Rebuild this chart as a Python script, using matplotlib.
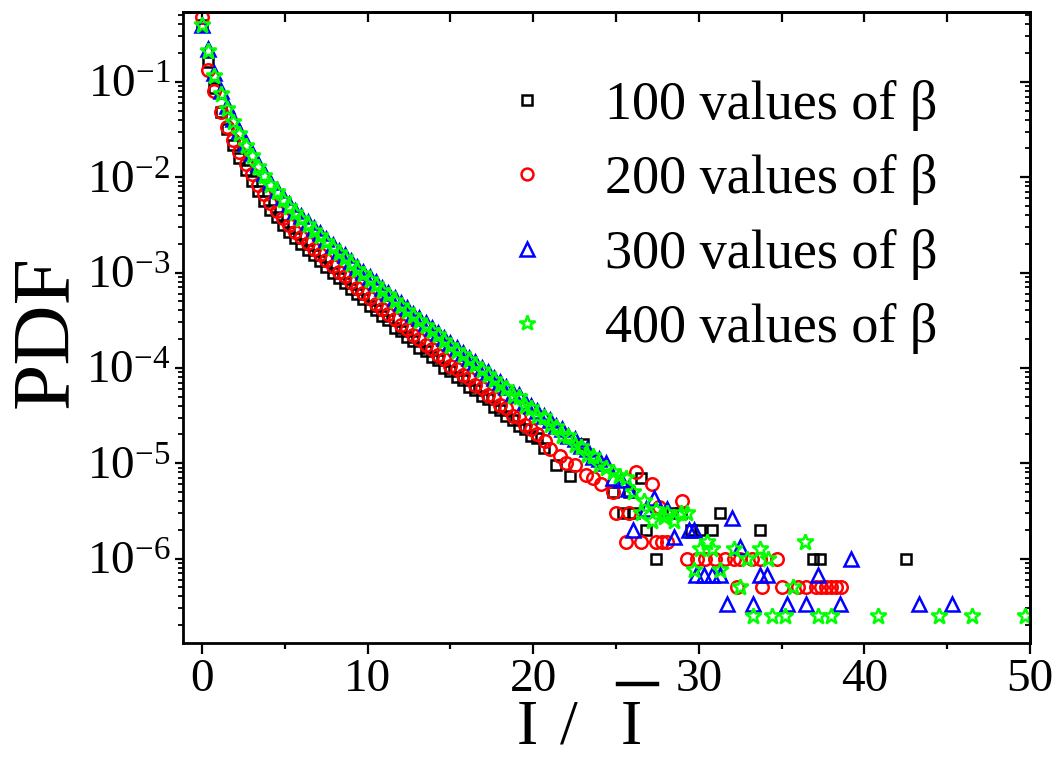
import numpy as np
import matplotlib
matplotlib.use('Agg')
import matplotlib.pyplot as plt
from matplotlib.ticker import FixedLocator, NullFormatter, FuncFormatter, NullLocator
from matplotlib.lines import Line2D

plt.rcParams['font.family'] = ['Liberation Serif', 'DejaVu Serif']
plt.rcParams['mathtext.fontset'] = 'custom'
plt.rcParams['mathtext.rm'] = 'Liberation Serif'
plt.rcParams['mathtext.it'] = 'Liberation Serif:italic'

# ---------------- data ----------------
x_dense = [0.00, 0.38, 0.75, 1.13, 1.50, 1.88, 2.25, 2.63, 3.00, 3.38, 3.75, 4.13, 4.50, 4.88,
           5.25, 5.63, 6.00, 6.38, 6.75, 7.13, 7.50, 7.88, 8.25, 8.63, 9.00, 9.38, 9.75, 10.13,
           10.50, 10.88, 11.25, 11.63, 12.00, 12.38, 12.75, 13.13, 13.50, 13.88, 14.25, 14.63,
           15.00, 15.38, 15.75, 16.13, 16.50, 16.88, 17.25, 17.63, 18.00, 18.38, 18.75, 19.13,
           19.50, 19.88, 20.25, 20.63, 21.00, 21.38, 21.75, 22.13, 22.50, 22.88, 23.25, 23.63, 24.00]

# log10(PDF) of the densely populated bins
log_black = [-0.40, -0.79, -1.07, -1.32, -1.50, -1.66, -1.80, -1.93, -2.04, -2.15, -2.25, -2.34,
             -2.42, -2.50, -2.57, -2.64, -2.70, -2.76, -2.82, -2.88, -2.94, -3.00, -3.06, -3.11,
             -3.17, -3.23, -3.28, -3.35, -3.39, -3.46, -3.50, -3.58, -3.61, -3.68, -3.72, -3.79,
             -3.82, -3.89, -3.92, -4.00, -4.03, -4.10, -4.13, -4.20, -4.23, -4.30, -4.33, -4.41,
             -4.44, -4.51, -4.55, -4.61, -4.64, -4.72, -4.74, -4.84]
log_red = [-0.32, -0.88, -1.10, -1.32, -1.47, -1.61, -1.74, -1.86, -1.97, -2.08, -2.18, -2.27,
           -2.35, -2.43, -2.50, -2.57, -2.63, -2.69, -2.75, -2.81, -2.87, -2.93, -2.99, -3.04,
           -3.10, -3.16, -3.21, -3.27, -3.33, -3.38, -3.44, -3.49, -3.55, -3.59, -3.66, -3.70,
           -3.76, -3.80, -3.87, -3.91, -3.98, -4.01, -4.08, -4.11, -4.18, -4.21, -4.29, -4.32,
           -4.39, -4.42, -4.50, -4.52, -4.60, -4.64, -4.69]
log_blue = [-0.40, -0.66, -0.91, -1.10, -1.25, -1.39, -1.52, -1.64, -1.75, -1.86, -1.96, -2.05,
            -2.13, -2.21, -2.28, -2.35, -2.41, -2.47, -2.53, -2.59, -2.65, -2.71, -2.77, -2.82,
            -2.88, -2.94, -2.99, -3.05, -3.10, -3.16, -3.21, -3.27, -3.32, -3.37, -3.43, -3.48,
            -3.53, -3.58, -3.63, -3.69, -3.74, -3.79, -3.84, -3.90, -3.94, -4.00, -4.04, -4.11,
            -4.15, -4.20, -4.26, -4.29, -4.36, -4.40, -4.45, -4.50, -4.55, -4.61, -4.64, -4.72,
            -4.75, -4.82, -4.85, -4.93, -4.96]
log_green = [-0.40, -0.68, -0.94, -1.13, -1.28, -1.42, -1.55, -1.67, -1.78, -1.89, -1.99, -2.08,
             -2.16, -2.24, -2.31, -2.38, -2.44, -2.50, -2.56, -2.62, -2.68, -2.74, -2.80, -2.85,
             -2.91, -2.97, -3.02, -3.08, -3.13, -3.19, -3.24, -3.30, -3.35, -3.40, -3.46, -3.51,
             -3.56, -3.61, -3.66, -3.72, -3.77, -3.82, -3.87, -3.92, -3.97, -4.02, -4.08, -4.13,
             -4.18, -4.21, -4.30, -4.31, -4.40, -4.42, -4.50, -4.52, -4.60, -4.62, -4.71, -4.72,
             -4.81, -4.83, -4.91, -4.92, -5.02]

# sparse tail bins (x, PDF)
black_tail_x = [21.4, 22.2, 23.0, 24.8, 25.4, 25.8, 26.1, 26.5, 26.8, 27.4, 28.4, 28.9, 29.5,
                30.1, 30.8, 31.3, 33.7, 36.9, 37.3, 42.5]
black_tail_y = [9.5e-6, 7.4e-6, 1.6e-5, 5e-6, 3e-6, 5e-6, 3e-6, 7e-6, 2e-6, 1e-6, 3e-6, 3e-6,
                2e-6, 2e-6, 2e-6, 3e-6, 2e-6, 1e-6, 1e-6, 1e-6]

red_tail_x = [20.7, 21.0, 21.6, 22.0, 22.5, 23.2, 23.6, 24.1, 24.8, 25.0, 25.6, 25.8, 26.2, 26.5,
              27.2, 27.4, 27.6, 27.8, 28.1, 29.0, 29.3, 29.9, 30.4, 31.0, 31.6, 32.1, 32.3, 32.5,
              33.2, 33.7, 33.8, 34.7, 35.0, 36.0, 36.5, 37.1, 37.4, 37.7, 38.0, 38.3, 38.6]
red_tail_y = [1.7e-5, 1.4e-5, 1.2e-5, 1.0e-5, 9.5e-6, 7.5e-6, 7.0e-6, 6.0e-6, 5.0e-6, 3.0e-6,
              1.5e-6, 3.0e-6, 8.0e-6, 1.5e-6, 6.0e-6, 1.5e-6, 3.5e-6, 1.5e-6, 1.5e-6, 4.0e-6,
              1e-6, 1e-6, 1e-6, 1e-6, 1e-6, 1e-6, 5e-7, 1e-6, 1e-6, 1e-6, 5e-7, 1e-6, 5e-7,
              5e-7, 5e-7, 5e-7, 5e-7, 5e-7, 5e-7, 5e-7, 5e-7]

blue_tail_x = [24.4, 24.8, 25.3, 25.7, 26.0, 26.8, 27.3, 28.1, 28.5, 29.4, 29.7, 29.8, 30.3,
               30.8, 31.3, 31.7, 32.0, 32.5, 33.3, 33.7, 34.1, 35.3, 36.5, 37.2, 38.5, 39.2,
               43.3, 45.3]
blue_tail_y = [1.0e-5, 7e-6, 6.67e-6, 5.33e-6, 2e-6, 3.33e-6, 4.33e-6, 3.33e-6, 1.67e-6, 2e-6,
               2e-6, 6.67e-7, 6.67e-7, 6.67e-7, 6.67e-7, 3.33e-7, 2.67e-6, 1.33e-6, 3.33e-7,
               6.67e-7, 6.67e-7, 3.33e-7, 3.33e-7, 6.67e-7, 3.33e-7, 1e-6, 3.33e-7, 3.33e-7]

green_tail_x = [24.4, 24.8, 25.2, 25.6, 26.0, 26.5, 26.7, 27.2, 27.4, 27.9, 28.1, 28.5, 28.9,
                29.3, 29.7, 30.1, 30.5, 30.8, 31.3, 32.1, 32.5, 32.9, 33.3, 33.7, 34.2, 34.4,
                35.2, 35.7, 36.4, 37.2, 38.0, 40.8, 44.5, 46.5, 49.7]
green_tail_y = [9e-6, 8e-6, 7.25e-6, 7e-6, 5e-6, 3e-6, 4e-6, 2.5e-6, 3.25e-6, 2.75e-6, 3e-6,
                2.5e-6, 3e-6, 3e-6, 7.5e-7, 1.25e-6, 1.5e-6, 1.25e-6, 7.5e-7, 1.25e-6, 5e-7,
                1e-6, 2.5e-7, 1.25e-6, 1e-6, 2.5e-7, 2.5e-7, 5e-7, 1.5e-6, 2.5e-7, 2.5e-7,
                2.5e-7, 2.5e-7, 2.5e-7, 2.5e-7]

labels = ['100 values of β', '200 values of β', '300 values of β', '400 values of β']
x_ticks = [0, 10, 20, 30, 40, 50]
x_minor = [5, 15, 25, 35, 45]
y_decades = [1e-6, 1e-5, 1e-4, 1e-3, 1e-2, 1e-1]

# ---------------- figure ----------------
W, H = 1056, 758
fig = plt.figure(figsize=(W / 100, H / 100), dpi=100)
ax = fig.add_axes([183 / W, 1 - 643 / H, (1030 - 183) / W, (643 - 12) / H])


def series(log_dense, tx, ty):
    xs = list(x_dense[:len(log_dense)]) + list(tx)
    ys = list(10.0 ** np.array(log_dense)) + list(ty)
    return xs, ys


sets = [
    (log_black, black_tail_x, black_tail_y, 's', 'black', 7.8),
    (log_red, red_tail_x, red_tail_y, 'o', '#ff0000', 9.0),
    (log_blue, blue_tail_x, blue_tail_y, '^', '#0000ff', 10.0),
    (log_green, green_tail_x, green_tail_y, '*', '#00ff00', 12.0),
]
for (ld, tx, ty, mk, col, ms), lab in zip(sets, labels):
    xs, ys = series(ld, tx, ty)
    ax.plot(xs, ys, ls='none', marker=mk, mfc='none', mec=col, ms=ms, mew=1.8, label=lab)

ax.set_yscale('log')
ax.set_xlim(-1.15, 50)
ax.set_ylim(1.3e-7, 0.54)

minor_y = [m * d for d in [1e-7, 1e-6, 1e-5, 1e-4, 1e-3, 1e-2, 1e-1] for m in range(2, 10)]

ax.xaxis.set_major_locator(FixedLocator(x_ticks))
ax.xaxis.set_minor_locator(FixedLocator(x_minor))
ax.yaxis.set_major_locator(FixedLocator(y_decades))
ax.yaxis.set_minor_locator(FixedLocator(minor_y))
ax.yaxis.set_minor_formatter(NullFormatter())
ax.yaxis.set_major_formatter(FuncFormatter(
    lambda v, p: r'$\mathregular{10^{%d}}$' % int(round(np.log10(v)))))

ax.tick_params(axis='x', which='major', direction='out', length=8, width=1.6,
               labelsize=34, pad=3, top=False)
ax.tick_params(axis='x', which='minor', direction='out', length=4, width=1.6, top=False)
ax.tick_params(axis='y', which='major', direction='out', length=6, width=1.6,
               labelsize=34, pad=3, right=False)
ax.tick_params(axis='y', which='minor', direction='out', length=3.5, width=1.3, right=False)

for s in ax.spines.values():
    s.set_linewidth(2.0)

secx = ax.secondary_xaxis('top')
secx.xaxis.set_major_locator(FixedLocator(sorted(x_ticks + x_minor)))
secx.xaxis.set_minor_locator(NullLocator())
secx.tick_params(which='major', direction='in', length=7, width=1.6, labeltop=False)
secx.spines['top'].set_linewidth(2.0)

secy = ax.secondary_yaxis('right')
secy.yaxis.set_major_locator(FixedLocator(y_decades))
secy.yaxis.set_minor_locator(FixedLocator(minor_y))
secy.yaxis.set_minor_formatter(NullFormatter())
secy.tick_params(which='major', direction='in', length=7, width=1.6, labelright=False)
secy.tick_params(which='minor', direction='in', length=3.5, width=1.3, labelright=False)
secy.spines['right'].set_linewidth(2.0)

leg = ax.legend(loc='upper left', bbox_to_anchor=(500 / W, 1 - 80 / H),
                bbox_transform=fig.transFigure, frameon=False, fontsize=39,
                borderpad=0, borderaxespad=0, handlelength=1.0, handletextpad=0.94,
                labelspacing=0.43, markerscale=0.95, numpoints=1)

# axis titles
fig.text(47 / W, 1 - 332 / H, 'PDF', rotation=90, fontsize=60, ha='center', va='center')
bottom_y = 1 - 757.5 / H
fig.text(527 / W, bottom_y, 'I', fontsize=46, ha='center', va='bottom')
fig.text(569 / W, bottom_y, '/', fontsize=46, ha='center', va='bottom')
fig.text(631 / W, bottom_y, 'I', fontsize=46, ha='center', va='bottom')
fig.add_artist(Line2D([618 / W, 657 / W], [1 - 684 / H, 1 - 684 / H],
                      transform=fig.transFigure, color='black', lw=3.2))

fig.savefig('out.png', dpi=100)
